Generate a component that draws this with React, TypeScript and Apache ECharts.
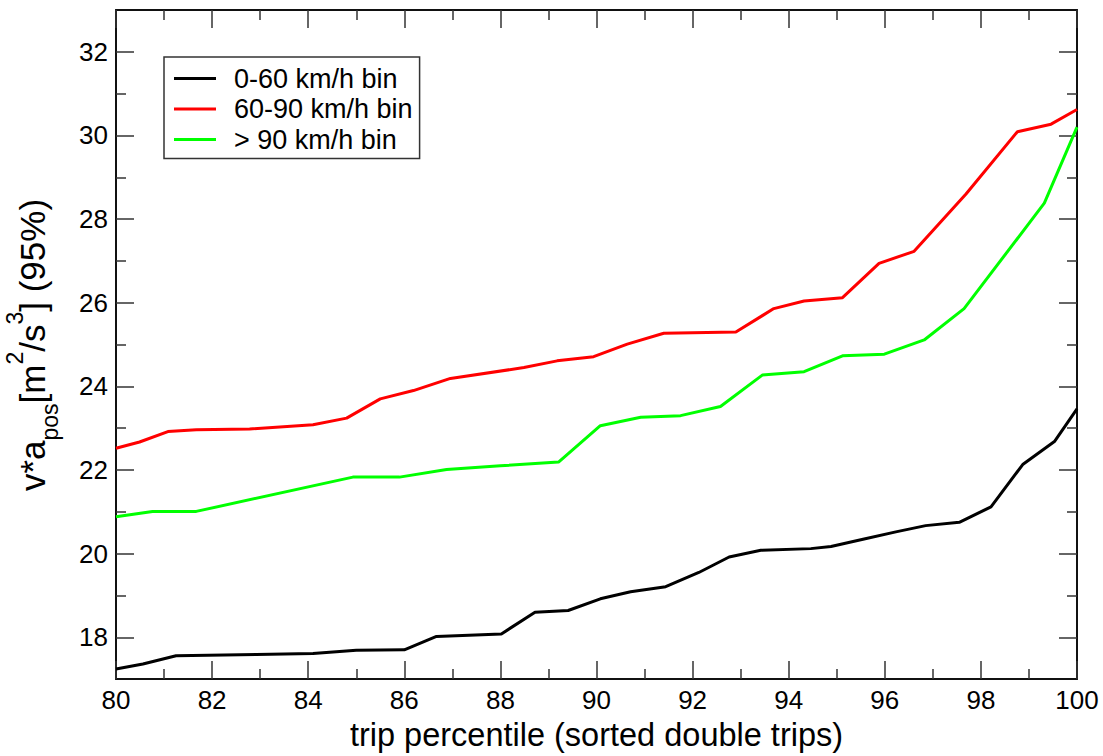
import React, { useEffect, useRef } from "react";
import * as echarts from "echarts";

// Trip percentile (x) and v*a_pos 95% value (y) for each speed bin
const lowPct = [80, 80.56, 81.25, 82.92, 84.1, 85.0, 86.0, 86.67, 88.02, 88.72, 89.41, 90.08, 90.71, 91.44, 92.13, 92.76, 93.42, 94.46, 94.88, 95.57, 96.23, 96.85, 97.55, 98.21, 98.87, 99.53, 100];
const lowVal = [17.24, 17.36, 17.56, 17.59, 17.61, 17.69, 17.7, 18.02, 18.08, 18.6, 18.64, 18.92, 19.09, 19.21, 19.55, 19.92, 20.08, 20.12, 20.17, 20.35, 20.52, 20.67, 20.75, 21.12, 22.13, 22.68, 23.46];

const midPct = [80, 80.49, 81.08, 81.67, 82.78, 84.1, 84.8, 85.5, 86.19, 86.96, 88.49, 89.18, 89.94, 90.64, 91.4, 92.9, 93.69, 94.32, 95.12, 95.88, 96.61, 97.69, 98.76, 99.46, 100];
const midVal = [22.52, 22.67, 22.92, 22.96, 22.98, 23.08, 23.24, 23.7, 23.9, 24.19, 24.45, 24.61, 24.71, 25.01, 25.27, 25.3, 25.86, 26.04, 26.12, 26.94, 27.23, 28.6, 30.09, 30.27, 30.62];

const highPct = [80, 80.76, 81.67, 84.93, 85.9, 86.88, 88.0, 89.21, 90.08, 90.92, 91.75, 92.58, 93.45, 94.32, 95.12, 95.99, 96.82, 97.65, 99.32, 100];
const highVal = [20.88, 21.01, 21.01, 21.83, 21.83, 22.01, 22.1, 22.19, 23.06, 23.26, 23.3, 23.52, 24.27, 24.35, 24.73, 24.77, 25.11, 25.86, 28.38, 30.2];

const seriesNames = ["0-60 km/h bin", "60-90 km/h bin", "> 90 km/h bin"];
const seriesColors = ["#000000", "#ff0000", "#00ff00"];

const yMajorTicks = [18, 20, 22, 24, 26, 28, 30, 32];
const yMinorTicks = [19, 21, 23, 25, 27, 29, 31];

const FONT = "'Liberation Sans', Arial, Helvetica, sans-serif";

const zip = (xs: number[], ys: number[]) => xs.map((x, i) => [x, ys[i]]);

export default function App() {
  const ref = useRef<HTMLDivElement>(null);

  useEffect(() => {
    if (!ref.current) return;
    const chart = echarts.init(ref.current, null, { renderer: "svg" });

    const frame = { show: true, onZero: false, lineStyle: { color: "#111", width: 2 } };
    const tickStyle = { color: "#333", width: 1.5 };

    const xBase = {
      type: "value" as const,
      min: 80,
      max: 100,
      interval: 2,
      axisLine: frame,
      axisTick: { show: true, inside: true, length: 18, lineStyle: tickStyle },
      minorTick: { show: true, splitNumber: 2, length: 10, lineStyle: tickStyle },
      splitLine: { show: false },
      minorSplitLine: { show: false },
    };

    const yMajor = (pos: "left" | "right", labels: boolean) => ({
      type: "value" as const,
      position: pos,
      min: 17,
      max: 33,
      axisLine: frame,
      axisTick: { show: true, inside: true, length: 18, lineStyle: tickStyle, customValues: yMajorTicks },
      axisLabel: labels
        ? { show: true, customValues: yMajorTicks, fontSize: 26, color: "#000", fontFamily: FONT, margin: 8 }
        : { show: false },
      splitLine: { show: false },
    });

    const yMinor = (pos: "left" | "right") => ({
      type: "value" as const,
      position: pos,
      min: 17,
      max: 33,
      axisLine: { show: false },
      axisTick: { show: true, inside: true, length: 10, lineStyle: tickStyle, customValues: yMinorTicks },
      axisLabel: { show: false },
      splitLine: { show: false },
    });

    const data = [zip(lowPct, lowVal), zip(midPct, midVal), zip(highPct, highVal)];

    chart.setOption({
      animation: false,
      backgroundColor: "#ffffff",
      grid: { left: 116, right: 26, top: 10, bottom: 75, containLabel: false },
      xAxis: [
        {
          ...xBase,
          position: "bottom",
          axisLabel: { show: true, fontSize: 26, color: "#000", fontFamily: FONT, margin: 8 },
          name: "trip percentile (sorted double trips)",
          nameLocation: "middle",
          nameGap: 35,
          nameTextStyle: { fontSize: 32.5, color: "#000", fontFamily: FONT },
        },
        { ...xBase, position: "top", axisLabel: { show: false } },
      ],
      yAxis: [yMajor("left", true), yMinor("left"), yMajor("right", false), yMinor("right")],
      legend: {
        show: true,
        orient: "vertical",
        left: 164,
        top: 57,
        data: seriesNames,
        icon: "rect",
        itemWidth: 42,
        itemHeight: 3,
        itemGap: 3.5,
        padding: [8, 7, 5.5, 10],
        borderColor: "#333",
        borderWidth: 1.5,
        backgroundColor: "#fff",
        textStyle: { fontSize: 27, color: "#000", fontFamily: FONT, padding: [0, 0, 0, 13] },
      },
      graphic: [
        {
          type: "text",
          x: 32,
          y: 345,
          rotation: Math.PI / 2,
          style: {
            text: "{m|v*a}{sub|pos}{m|[m}{sup|2}{m|/s}{sup|3}{m|] (95%)}",
            fontFamily: FONT,
            fill: "#000",
            align: "center",
            verticalAlign: "middle",
            rich: {
              m: { fontSize: 35, lineHeight: 40, fontFamily: FONT, fill: "#000" },
              sup: { fontSize: 23, lineHeight: 26, fontFamily: FONT, fill: "#000", padding: [0, 0, 34, 0] },
              sub: { fontSize: 23, lineHeight: 26, fontFamily: FONT, fill: "#000", padding: [36, 0, 0, 0] },
            },
          },
        },
      ],
      series: seriesNames.map((name, i) => ({
        name,
        type: "line",
        xAxisIndex: 0,
        yAxisIndex: 0,
        data: data[i],
        showSymbol: false,
        symbol: "none",
        lineStyle: { color: seriesColors[i], width: 3 },
        itemStyle: { color: seriesColors[i] },
        z: 3 - i,
      })),
    });

    return () => chart.dispose();
  }, []);

  return (
    <div
      ref={ref}
      style={{ position: "absolute", left: 0, top: 0, width: 1103, height: 756, background: "#fff" }}
    />
  );
}
